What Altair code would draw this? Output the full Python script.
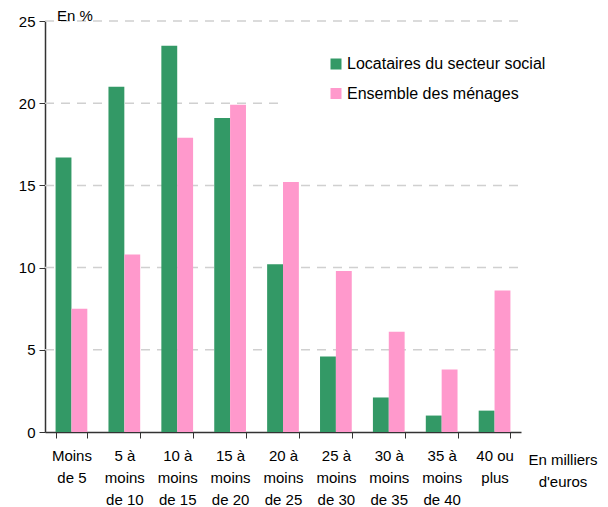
import altair as alt
import pandas as pd

categories = ["Moins|de 5", "5 à|moins|de 10", "10 à|moins|de 15", "15 à|moins|de 20",
              "20 à|moins|de 25", "25 à|moins|de 30", "30 à|moins|de 35", "35 à|moins|de 40",
              "40 ou|plus"]
series_names = ["Locataires du secteur social", "Ensemble des ménages"]
social = [16.7, 21.0, 23.5, 19.1, 10.2, 4.6, 2.1, 1.0, 1.3]
ensemble = [7.5, 10.8, 17.9, 19.9, 15.2, 9.8, 6.1, 3.8, 8.6]
colors = ["#339966", "#ff99cc"]
grid_full = [5, 10, 15, 25]
grid_short = [20]

W, H = 476, 411
FONT = "Liberation Sans"

rows = []
for c, a, b in zip(categories, social, ensemble):
    rows.append({"cat": c, "serie": series_names[0], "val": a})
    rows.append({"cat": c, "serie": series_names[1], "val": b})
df = pd.DataFrame(rows)

yscale = alt.Scale(domain=[0, 25])
yaxis = alt.Axis(values=[0, 5, 10, 15, 20, 25], grid=False, labelFont=FONT,
                 labelFontSize=15, labelColor="#000", tickSize=6, tickColor="#333",
                 domainColor="#333", domainWidth=1.5, labelPadding=4)

grid1 = alt.Chart(pd.DataFrame({"val": grid_full})).mark_rule(
    color="#d0d0d0", strokeDash=[9, 7], strokeWidth=1.5
).encode(y=alt.Y("val:Q", scale=yscale, axis=yaxis, title=None),
         x=alt.value(0), x2=alt.value(W + 2))

grid2 = alt.Chart(pd.DataFrame({"val": grid_short})).mark_rule(
    color="#d0d0d0", strokeDash=[9, 7], strokeWidth=1.5
).encode(y=alt.Y("val:Q", scale=yscale, axis=yaxis, title=None),
         x=alt.value(0), x2=alt.value(238))

bars = alt.Chart(df).mark_bar().encode(
    x=alt.X("cat:N", sort=categories, title=None,
            scale=alt.Scale(paddingInner=0.4, paddingOuter=0.2),
            axis=alt.Axis(labelExpr="split(datum.label, '|')", labelAngle=0,
                          labelFont=FONT, labelFontSize=15, labelColor="#000",
                          labelLineHeight=22, labelPadding=17, labelBaseline="middle",
                          tickBand="extent", tickSize=6, tickColor="#333",
                          domainColor="#333", domainWidth=1.5)),
    xOffset=alt.XOffset("serie:N", sort=series_names),
    y=alt.Y("val:Q", scale=yscale, title=None, axis=yaxis),
    color=alt.Color("serie:N", sort=series_names,
                    scale=alt.Scale(domain=series_names, range=colors),
                    legend=alt.Legend(title=None, orient="none", legendX=283, legendY=35,
                                      symbolType="square", symbolSize=121, symbolStrokeWidth=0,
                                      labelFont=FONT, labelFontSize=16, labelColor="#000",
                                      labelLimit=0, rowPadding=13.5, labelOffset=3)),
)

ann = pd.DataFrame({"t": ["En %"]})
t1 = alt.Chart(ann).mark_text(font=FONT, fontSize=15, align="left", baseline="middle",
                              color="#000").encode(
    text="t:N", x=alt.value(12), y=alt.value(-5))

ann2 = pd.DataFrame({"t": ["En milliers"], "t2": ["d'euros"]})
t2 = alt.Chart(ann2).mark_text(font=FONT, fontSize=15, align="center", baseline="middle",
                               color="#000").encode(
    text="t:N", x=alt.value(518), y=alt.value(439))
t3 = alt.Chart(ann2).mark_text(font=FONT, fontSize=15, align="center", baseline="middle",
                               color="#000").encode(
    text="t2:N", x=alt.value(518), y=alt.value(461))

chart = alt.layer(grid1, grid2, bars, t1, t2, t3).properties(
    width=W, height=H,
    autosize=alt.AutoSizeParams(type="none"),
    padding={"left": 37, "top": 13, "right": 79, "bottom": 75},
).configure_view(stroke=None)

chart.save("out.html", embed_options={"renderer": "svg", "actions": False})
